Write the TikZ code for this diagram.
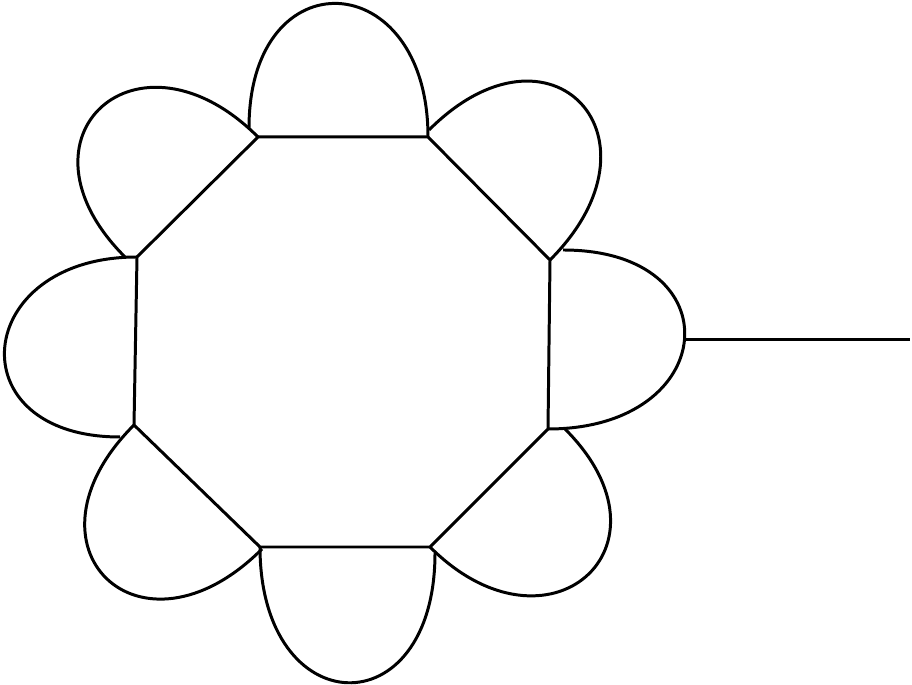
\documentclass[tikz,border=0pt]{standalone}
\begin{document}
\begin{tikzpicture}[x=0.02cm,y=0.02cm,line width=1.7pt]
\useasboundingbox (0,0) rectangle (912,685);
% corners of the octagon, clockwise from the top right
\foreach \vn/\vx/\vy in {1/428/548,2/550/425,3/548/256,4/430/138,5/260/138,6/134/260,7/137/428,8/258/548}{\coordinate (v\vn) at (\vx,\vy);}
% where each petal leaves the one before it
\foreach \sn/\sx/\sy in {1/249/557,2/429/555,3/563/435,4/565/256,5/435/132,6/262/136,7/120/248,8/125/428}{\coordinate (s\sn) at (\sx,\sy);}
\draw (v1)--(v2)--(v3)--(v4)--(v5)--(v6)--(v7)--(v8)--cycle;
\foreach \k/\dx/\dy in {1/0/172,2/122/122,3/172/0,4/118/-118,5/0/-177,6/-122/-122,7/-165/0,8/-120/120}{\draw (s\k) .. controls +(\dx,\dy) and +(\dx,\dy) .. (v\k);}
\coordinate (tip) at (684.5,345.5);
\coordinate (lend) at (910,345.5);
\draw (tip)--(lend);
\end{tikzpicture}
\end{document}
